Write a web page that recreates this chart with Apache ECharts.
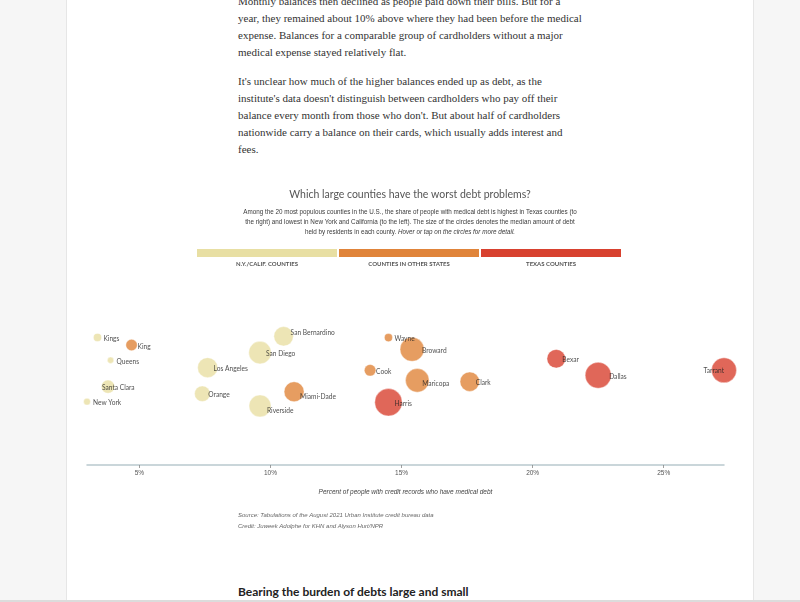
<!DOCTYPE html>
<html>
<head>
<meta charset="utf-8">
<script src="https://cdn.jsdelivr.net/npm/echarts@6/dist/echarts.min.js"></script>
<style>
  html, body { margin:0; padding:0; width:800px; height:602px; overflow:hidden; background:#f6f6f6; }
  #page { position:absolute; left:66px; top:0; width:686px; height:602px; background:#fff;
          border-left:1px solid #e6e6e6; border-right:1px solid #e6e6e6; }
  .ln { position:absolute; left:238px; white-space:nowrap; font-family:"Liberation Serif","DejaVu Serif",serif;
        color:#333; height:17px; line-height:17px; }
  #h2 { position:absolute; left:238px; top:584px; font-family:Lato,"Open Sans",sans-serif; font-weight:bold;
        font-size:12px; color:#222; white-space:nowrap; line-height:16px; }
  #bottom { position:absolute; left:0; top:600px; width:800px; height:2px; background:#dcdcdc; }
  #chart { position:absolute; left:0; top:0; width:800px; height:602px; }
</style>
</head>
<body>
<div id="page"></div>
<div id="text"></div>
<div id="h2">Bearing the burden of debts large and small</div>
<div id="bottom"></div>
<div id="chart"></div>
<script>
// ---- article text lines ----
const articleLines = [
  "Monthly balances then declined as people paid down their bills. But for a",
  "year, they remained about 10% above where they had been before the medical",
  "expense. Balances for a comparable group of cardholders without a major",
  "medical expense stayed relatively flat.",
  "It's unclear how much of the higher balances ended up as debt, as the",
  "institute's data doesn't distinguish between cardholders who pay off their",
  "balance every month from those who don't. But about half of cardholders",
  "nationwide carry a balance on their cards, which usually adds interest and",
  "fees."
];
const lineCenters = [1, 18, 35, 52, 81, 98, 115, 132, 149];

// ---- chart data ----
const counties = ["Kings","King","Queens","Santa Clara","New York","Los Angeles","Orange","San Diego",
  "San Bernardino","Riverside","Miami-Dade","Wayne","Broward","Cook","Maricopa","Harris","Clark",
  "Bexar","Dallas","Tarrant"];
const groupOf = ["NY/CA","Other","NY/CA","NY/CA","NY/CA","NY/CA","NY/CA","NY/CA",
  "NY/CA","NY/CA","Other","Other","Other","Other","Other","Texas","Other",
  "Texas","Texas","Texas"];
// percent of people with credit records who have medical debt
const pctMedicalDebt = [3.4,4.7,3.9,3.8,3.0,7.6,7.4,9.6,10.5,9.6,10.9,14.5,15.4,13.8,15.6,14.5,17.6,20.9,22.5,27.3];
// relative median debt (drives circle area)
const medianDebt = [90,180,55,245,65,550,335,700,520,665,550,90,790,185,765,1030,520,475,930,860];
// beeswarm lane value (hidden vertical axis, arbitrary units)
const swarmLane = [77.3,72.7,63.5,47.5,38.4,59.0,43.2,68.1,78.0,35.8,44.4,77.2,70.1,57.4,51.3,38.0,50.5,64.4,54.4,57.4];
const groups = ["NY/CA","Other","Texas"];
const groupLabels = ["N.Y./CALIF. COUNTIES","COUNTIES IN OTHER STATES","TEXAS COUNTIES"];
const xTicks = [5,10,15,20,25];

// ---- styles ----
const groupColors = {"NY/CA":"#e8dfa3","Other":"#e0843a","Texas":"#d8412f"};
const labelTweaks = {
  "Santa Clara":{offset:[-6,1]},
  "San Bernardino":{offset:[7,-3]},
  "Riverside":{offset:[7,5]},
  "Miami-Dade":{offset:[6,5]},
  "Maricopa":{offset:[5,4]},
  "Broward":{offset:[10,2]},
  "Dallas":{offset:[11,2]},
  "Tarrant":{offset:[0,1], align:"right"}
};

// article text render
(function(){
  const host = document.getElementById('text');
  const probe = document.createElement('span');
  probe.className = 'ln'; probe.style.fontSize = '11px'; probe.textContent = articleLines[1];
  host.appendChild(probe);
  const w = probe.getBoundingClientRect().width;
  host.removeChild(probe);
  const fs = 11 * 344 / w;
  articleLines.forEach((t,i)=>{
    const d = document.createElement('div');
    d.className='ln'; d.style.fontSize = fs+'px'; d.style.top = (lineCenters[i]-8.5)+'px';
    d.textContent = t; host.appendChild(d);
  });
})();

const chart = echarts.init(document.getElementById('chart'), null, {renderer:'canvas'});
const sizeK = 0.4264;
const series = groups.map(g => ({
  type:'scatter',
  name:g,
  clip:false,
  data: counties.map((c,i)=>({c,i})).filter(o=>groupOf[o.i]===g).map(o=>{
    const tw = labelTweaks[o.c] || {};
    return {
      name:o.c,
      value:[pctMedicalDebt[o.i], swarmLane[o.i], medianDebt[o.i]],
      label:{ offset: tw.offset || [6,1.5], align: tw.align || 'left' }
    };
  }),
  symbolSize: v => 2*sizeK*Math.sqrt(v[2]),
  itemStyle:{ color:groupColors[g], opacity:0.8, borderColor:'#ffffff', borderWidth:0.5 },
  label:{ show:true, position:'inside', formatter:p=>p.name, color:'#222',
          fontFamily:'Lato', fontSize:6.6, align:'left', verticalAlign:'middle' },
  emphasis:{ disabled:true }
}));

const legendX = [197,339,481];
const graphic = [
  {type:'text', x:410, y:189, style:{text:"Which large counties have the worst debt problems?",
     align:'center', font:'10.5px Lato', fill:'#555'}},
  {type:'text', x:410, y:207, style:{
     text:"Among the 20 most populous counties in the U.S., the share of people with medical debt is highest in Texas counties (to\nthe right) and lowest in New York and California (to the left). The size of the circles denotes the median amount of debt\nheld by residents in each county. {i|Hover or tap on the circles for more detail.}",
     align:'center', verticalAlign:'top', lineHeight:10, font:'6.3px "Liberation Sans"', fill:'#3a3a3a',
     rich:{i:{fontStyle:'italic', fontFamily:'Liberation Sans', fontSize:6.3, fill:'#3a3a3a', lineHeight:10}}}},
  {type:'text', x:238, y:512, style:{text:"Source: Tabulations of the August 2021 Urban Institute credit bureau data",
     font:'italic 6px "Liberation Sans"', fill:'#666'}},
  {type:'text', x:238, y:523, style:{text:"Credit: Juweek Adolphe for KHN and Alyson Hurt/NPR",
     font:'italic 6px "Liberation Sans"', fill:'#666'}}
];
groups.forEach((g,k)=>{
  graphic.push({type:'rect', shape:{x:legendX[k], y:249, width:140, height:8}, style:{fill:groupColors[g]}});
  graphic.push({type:'text', x:legendX[k]+70, y:261, style:{text:groupLabels[k], align:'center',
     font:'bold 6px Lato', fill:'#555'}});
});

chart.setOption({
  animation:false,
  backgroundColor:'transparent',
  graphic: graphic,
  grid:{ left:87, right:76, top:300, bottom:137 },
  xAxis:{
    type:'value', min:3, max:27.3,
    axisLine:{ show:true, lineStyle:{ color:'#b9c9ce', width:1.5 } },
    axisTick:{ show:true, customValues:xTicks, length:3, lineStyle:{ color:'#888', width:0.8 } },
    axisLabel:{ customValues:xTicks, formatter:v=>v+'%', fontSize:6.5, color:'#555',
                fontFamily:'Liberation Sans', margin:5 },
    splitLine:{ show:false },
    name:'Percent of people with credit records who have medical debt',
    nameLocation:'middle', nameGap:24,
    nameTextStyle:{ fontStyle:'italic', fontSize:6.5, color:'#444', fontFamily:'Liberation Sans' }
  },
  yAxis:{ type:'value', min:0, max:100, show:false },
  series: series
});
</script>
</body>
</html>
